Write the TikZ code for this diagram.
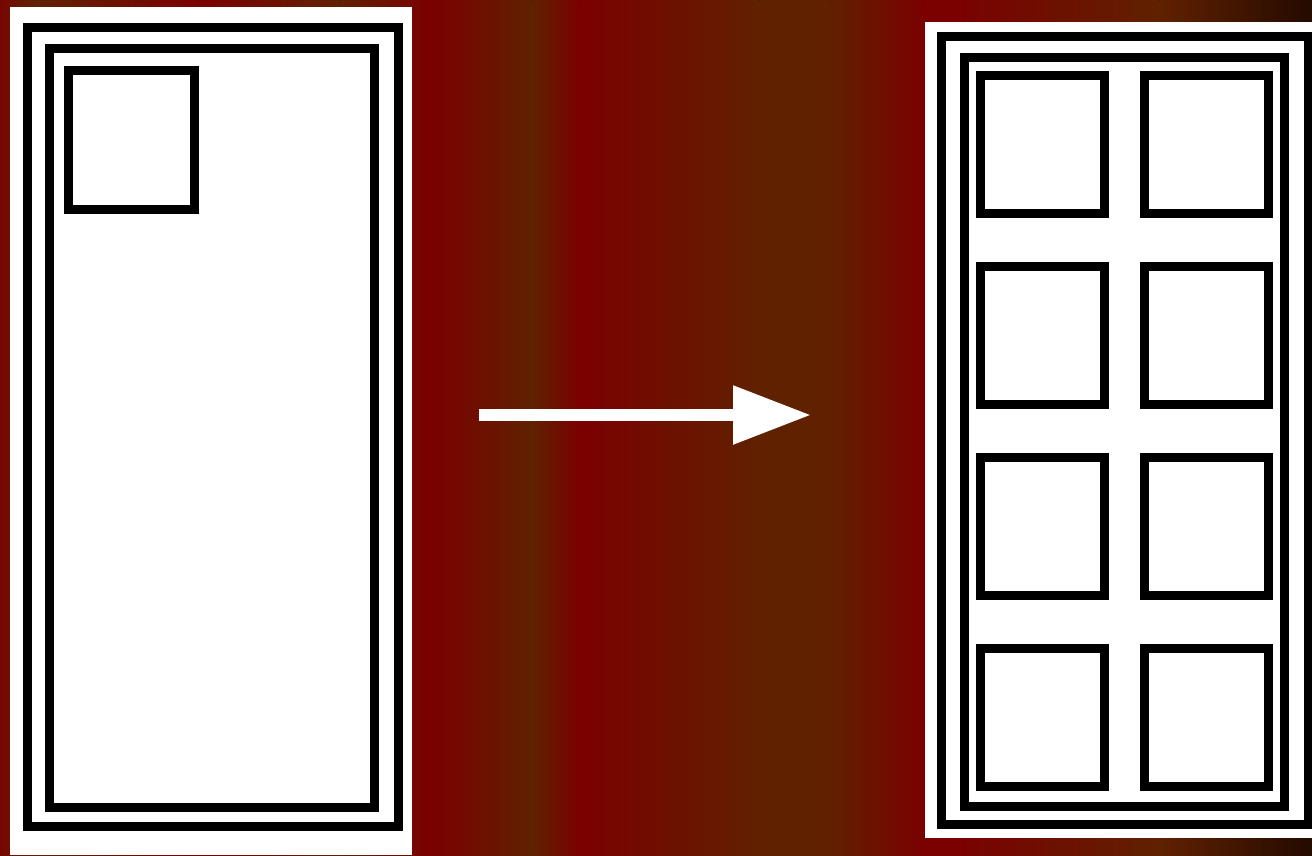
\documentclass[tikz,border=0pt]{standalone}
\usetikzlibrary{arrows.meta}
\definecolor{bgred}{HTML}{7B0000}
\definecolor{bgbrown}{HTML}{602100}
\definecolor{bgdark}{HTML}{240A00}
\definecolor{bgmid}{HTML}{760600}
\tikzset{
  frame/.style={draw=black, line width=9bp},
  panel/.style={fill=white},
  bigarrow/.style={draw=white, line width=12bp, -{Triangle[length=78bp,width=56bp]}, white}
}
\newcommand{\bgseg}[4]{\fill[left color=#3, right color=#4] (#1-0.6,0) rectangle (#2+0.6,855);}
\begin{document}
\begin{tikzpicture}[x=1bp,y=-1bp]
\useasboundingbox (0,0) rectangle (1312,855);
% background gradient
\bgseg{0}{35}{bgmid}{bgbrown}
\bgseg{35}{200}{bgbrown}{bgred}
\bgseg{200}{340}{bgred}{bgbrown}
\bgseg{340}{430}{bgbrown}{bgred}
\bgseg{430}{533}{bgred}{bgbrown}
\bgseg{533}{580}{bgbrown}{bgred}
\bgseg{580}{760}{bgred}{bgbrown}
\bgseg{760}{830}{bgbrown}{bgbrown}
\bgseg{830}{925}{bgbrown}{bgred}
\bgseg{925}{950}{bgred}{bgred}
\bgseg{950}{1160}{bgred}{bgbrown}
\bgseg{1160}{1312}{bgbrown}{bgdark}
% left panel
\fill[panel] (10,7) rectangle (412,855);
\draw[frame] (27,27.5) rectangle (398,826.5);
\draw[frame] (49.5,48.5) rectangle (374.5,807.5);
\draw[frame] (68,70.5) rectangle (194.5,209.5);
% right panel
\fill[panel] (925,22) rectangle (1312,838);
\draw[frame] (941,36) rectangle (1308,824.5);
\draw[frame] (964.5,57) rectangle (1284.5,806.5);
\foreach \t/\b in {75.5/213.5, 266.3/404.3, 457/595, 648/786}{
  \draw[frame] (980.5,\t) rectangle (1104.5,\b);
  \draw[frame] (1144,\t) rectangle (1268.5,\b);
}
% arrow
\coordinate (arrowstart) at (479,415);
\coordinate (arrowend) at (811,415);
\draw[bigarrow] (arrowstart) -- (arrowend);
\end{tikzpicture}
\end{document}
